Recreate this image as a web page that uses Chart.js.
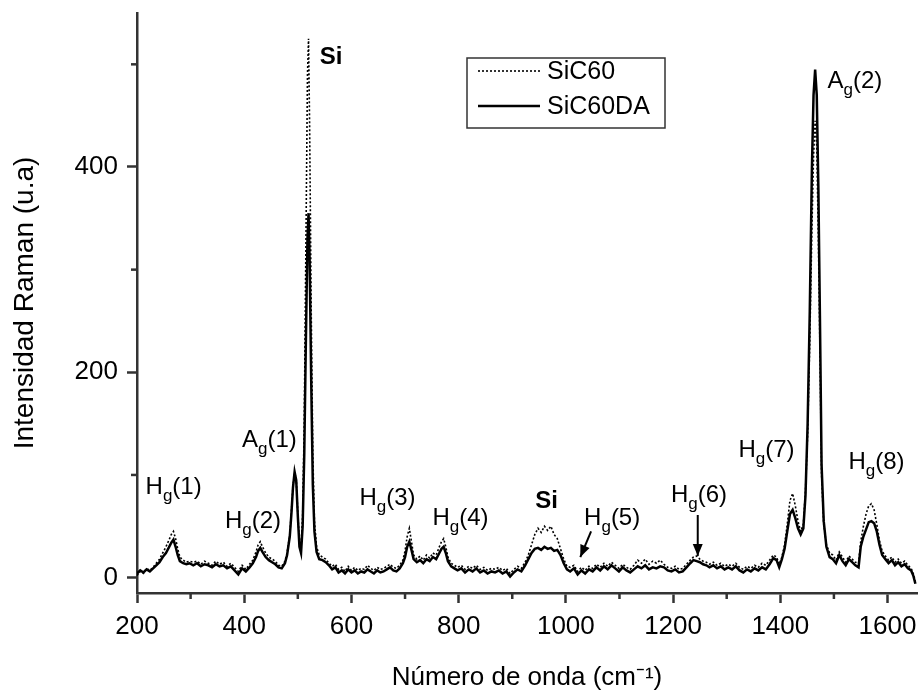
<!DOCTYPE html>
<html>
<head>
<meta charset="utf-8">
<title>Raman SiC60 / SiC60DA</title>
<script src="https://cdn.jsdelivr.net/npm/chart.js@4.4.1/dist/chart.umd.min.js"></script>
<style>
  html, body { margin: 0; padding: 0; background: #fff; }
  canvas { display: block; }
</style>
</head>
<body>
<canvas id="ramanChart" width="920" height="691"></canvas>
<script>
// Raman shift (cm-1)
const wavenumber = [
  200, 206, 212, 218, 224, 230, 236, 242, 248, 254, 260, 264, 268, 272, 276, 280, 286, 292, 298,
  305, 312, 319, 326, 333, 340, 347, 354, 361, 368, 375, 382, 389, 396, 403, 410, 416,
  422, 426, 430, 434, 440, 446, 452, 458, 464, 470, 476,
  480, 485, 488, 491, 494, 497, 500, 503, 506, 509, 512, 515, 518, 520, 522, 525, 528, 531, 535, 540, 546,
  552, 558, 564, 570, 576, 582, 588, 594, 600, 606, 612, 618, 624, 630, 636, 642, 648, 654, 660, 666, 672, 678, 684, 690, 696,
  700, 704, 708, 712, 716, 722, 728, 734, 740, 746, 752, 758, 764, 768, 772, 776, 780, 786, 792,
  798, 805, 812, 819, 826, 833, 840, 847, 854, 861, 868, 875, 882, 889, 896, 903, 910, 917, 924,
  930, 936, 942, 948, 954, 960, 966, 972, 978, 984, 990, 996, 1002,
  1008, 1015, 1022, 1029, 1036, 1043, 1050, 1057, 1064, 1071, 1078, 1085, 1092, 1099, 1106, 1113,
  1120, 1127, 1134, 1141, 1148, 1155, 1162, 1169, 1176, 1183, 1190, 1197, 1204, 1211, 1218, 1225,
  1232, 1238, 1244, 1250, 1256, 1262, 1268, 1275, 1282, 1289, 1296, 1303,
  1310, 1317, 1324, 1331, 1338, 1345, 1352, 1359, 1366, 1373, 1380, 1387, 1393, 1398,
  1403, 1408, 1413, 1418, 1423, 1428, 1433, 1438, 1443, 1447, 1451, 1455, 1459, 1462, 1465, 1468, 1471, 1474, 1477, 1481, 1486, 1492,
  1498, 1504, 1510, 1516, 1522, 1528, 1534, 1540, 1546, 1550, 1555, 1560, 1565, 1570, 1575, 1580, 1585, 1590, 1596, 1602,
  1608, 1614, 1620, 1626, 1632, 1638, 1644, 1648, 1652
];

// SiC60 (dotted)
const sic60 = [
  2, 6, 4, 9, 7, 10, 14, 18, 24, 30, 37, 42, 45, 38, 28, 20, 17, 15, 16,
  15, 16, 13, 16, 14, 12, 16, 13, 15, 11, 14, 10, 6, 12, 8, 13, 17,
  25, 32, 35, 30, 24, 20, 18, 16, 12, 11, 16,
  24, 42, 64, 90, 102, 96, 62, 34, 30, 60, 150, 320, 490, 525, 440, 260, 120, 55, 30, 22, 20,
  18, 14, 11, 13, 8, 10, 6, 11, 7, 10, 7, 9, 8, 12, 9, 7, 10, 8, 9, 11, 13, 10, 9, 12, 17,
  26, 40, 48, 35, 22, 18, 21, 17, 22, 19, 24, 22, 30, 35, 38, 30, 20, 14, 12,
  10, 12, 8, 11, 9, 12, 8, 10, 7, 9, 8, 10, 7, 9, 4, 8, 11, 9, 15,
  22, 32, 42, 48, 44, 50, 46, 50, 42, 38, 28, 18, 11,
  10, 12, 6, 10, 7, 11, 9, 13, 10, 14, 11, 15, 12, 9, 13, 10,
  8, 12, 17, 14, 18, 13, 16, 14, 17, 13, 10, 9, 11, 8, 9, 13,
  17, 20, 21, 18, 16, 15, 13, 15, 12, 14, 11, 13,
  11, 14, 10, 8, 11, 9, 12, 10, 14, 12, 17, 22, 20, 13,
  20, 32, 52, 75, 82, 70, 55, 45, 52, 85, 140, 230, 340, 410, 445, 420, 330, 220, 100, 52, 32, 24,
  22, 17, 25, 20, 15, 21, 18, 15, 14, 35, 50, 62, 70, 72, 66, 52, 36, 26, 21, 17,
  20, 15, 18, 14, 16, 12, 9, 4, -4
];

// SiC60DA (solid)
const sic60da = [
  4, 7, 5, 8, 6, 9, 12, 15, 20, 24, 30, 34, 37, 30, 22, 16, 14, 13, 14,
  12, 14, 11, 13, 12, 10, 13, 11, 12, 9, 11, 7, 3, 9, 6, 10, 14,
  20, 26, 29, 25, 20, 17, 15, 13, 10, 9, 14,
  22, 40, 62, 88, 103, 95, 60, 30, 24, 50, 120, 230, 330, 355, 310, 190, 90, 45, 25, 18, 17,
  15, 12, 8, 10, 5, 7, 4, 8, 5, 7, 4, 6, 5, 8, 6, 4, 7, 5, 6, 8, 10, 7, 6, 9, 14,
  20, 30, 35, 27, 18, 15, 17, 14, 18, 16, 20, 18, 24, 28, 30, 24, 16, 11, 9,
  7, 9, 5, 8, 6, 9, 5, 7, 4, 6, 5, 7, 4, 6, 1, 5, 8, 6, 12,
  18, 24, 28, 29, 27, 30, 28, 29, 26, 27, 22, 14, 8,
  6, 9, 3, 7, 4, 8, 6, 10, 7, 11, 8, 12, 9, 6, 10, 7,
  5, 8, 11, 9, 12, 8, 10, 9, 11, 10, 7, 6, 8, 5, 6, 10,
  14, 17, 16, 15, 13, 12, 10, 12, 9, 11, 8, 10,
  8, 11, 7, 5, 8, 6, 9, 7, 10, 8, 13, 19, 17, 10,
  18, 28, 45, 62, 66, 58, 48, 42, 48, 80, 150, 260, 400, 470, 495, 470, 380, 250, 110, 55, 30, 20,
  18, 14, 22, 16, 12, 18, 15, 12, 10, 30, 40, 47, 54, 55, 53, 45, 32, 22, 18, 14,
  17, 12, 15, 11, 13, 9, 7, 2, -6
];

const xTickValues = [200, 400, 600, 800, 1000, 1200, 1400, 1600];
const xMinorValues = [300, 500, 700, 900, 1100, 1300, 1500];
const yTickValues = [0, 200, 400];
const yMinorValues = [100, 300, 500];

// Peak labels, anchored in data units (left edge / baseline)
const peakLabels = [
  { main: 'H', sub: 'g', tail: '(1)', x: 216, y: 81 },
  { main: 'H', sub: 'g', tail: '(2)', x: 364, y: 48 },
  { main: 'A', sub: 'g', tail: '(1)', x: 396, y: 127 },
  { main: 'Si', x: 541, y: 500, bold: true },
  { main: 'H', sub: 'g', tail: '(3)', x: 615, y: 71 },
  { main: 'H', sub: 'g', tail: '(4)', x: 751, y: 51 },
  { main: 'Si', x: 943, y: 68, bold: true },
  { main: 'H', sub: 'g', tail: '(5)', x: 1034, y: 51 },
  { main: 'H', sub: 'g', tail: '(6)', x: 1196, y: 74 },
  { main: 'H', sub: 'g', tail: '(7)', x: 1322, y: 117 },
  { main: 'H', sub: 'g', tail: '(8)', x: 1527, y: 106 },
  { main: 'A', sub: 'g', tail: '(2)', x: 1488, y: 477 }
];

const arrows = [
  { x0: 1047, y0: 45, x1: 1027, y1: 20 },
  { x0: 1246, y0: 61, x1: 1246, y1: 21 }
];

const FONT = '"Liberation Sans", Arial, Helvetica, sans-serif';
const AXIS_COLOR = '#333';

function toPoints(values) {
    return wavenumber.map((w, i) => ({ x: w, y: values[i] }));
}

function drawArrowHead(ctx, x0, y0, x1, y1) {
    const ang = Math.atan2(y1 - y0, x1 - x0);
    const len = 12, half = 5;
    ctx.beginPath();
    ctx.moveTo(x1, y1);
    ctx.lineTo(x1 - len * Math.cos(ang) + half * Math.sin(ang), y1 - len * Math.sin(ang) - half * Math.cos(ang));
    ctx.lineTo(x1 - len * Math.cos(ang) - half * Math.sin(ang), y1 - len * Math.sin(ang) + half * Math.cos(ang));
    ctx.closePath();
    ctx.fill();
}

const decorations = {
    id: 'decorations',
    afterDraw(chart) {
        const ctx = chart.ctx;
        const xs = chart.scales.x, ys = chart.scales.y;
        ctx.save();

        // minor ticks
        ctx.strokeStyle = AXIS_COLOR;
        ctx.lineWidth = 2.5;
        xMinorValues.forEach(v => {
            const px = xs.getPixelForValue(v);
            ctx.beginPath();
            ctx.moveTo(px, xs.top);
            ctx.lineTo(px, xs.top + 6);
            ctx.stroke();
        });
        yMinorValues.forEach(v => {
            const py = ys.getPixelForValue(v);
            ctx.beginPath();
            ctx.moveTo(ys.right, py);
            ctx.lineTo(ys.right - 6, py);
            ctx.stroke();
        });

        // peak labels
        ctx.fillStyle = '#000';
        ctx.textBaseline = 'alphabetic';
        ctx.textAlign = 'left';
        peakLabels.forEach(l => {
            let px = xs.getPixelForValue(l.x);
            const py = ys.getPixelForValue(l.y);
            ctx.font = (l.bold ? 'bold ' : '') + '24px ' + FONT;
            ctx.fillText(l.main, px, py);
            px += ctx.measureText(l.main).width;
            if (l.sub) {
                ctx.font = '17px ' + FONT;
                ctx.fillText(l.sub, px, py + 7);
                px += ctx.measureText(l.sub).width;
            }
            if (l.tail) {
                ctx.font = '24px ' + FONT;
                ctx.fillText(l.tail, px, py);
            }
        });

        // arrows
        ctx.strokeStyle = '#000';
        ctx.lineWidth = 2;
        arrows.forEach(a => {
            const x0 = xs.getPixelForValue(a.x0), y0 = ys.getPixelForValue(a.y0);
            const x1 = xs.getPixelForValue(a.x1), y1 = ys.getPixelForValue(a.y1);
            ctx.beginPath();
            ctx.moveTo(x0, y0);
            ctx.lineTo(x1, y1);
            ctx.stroke();
            drawArrowHead(ctx, x0, y0, x1, y1);
        });

        // legend box
        const bx = 467, by = 58, bw = 198, bh = 70;
        ctx.lineWidth = 1.5;
        ctx.strokeStyle = AXIS_COLOR;
        ctx.strokeRect(bx, by, bw, bh);
        chart.data.datasets.forEach((ds, i) => {
            const ly = by + 13 + i * 35;
            ctx.beginPath();
            ctx.setLineDash(ds.borderDash || []);
            ctx.lineWidth = ds.borderWidth;
            ctx.strokeStyle = ds.borderColor;
            ctx.moveTo(bx + 11, ly);
            ctx.lineTo(bx + 73, ly);
            ctx.stroke();
            ctx.setLineDash([]);
            ctx.font = '25px ' + FONT;
            ctx.textBaseline = 'middle';
            ctx.fillText(ds.label, bx + 80, ly + 1);
        });
        ctx.restore();
    }
};

new Chart(document.getElementById('ramanChart'), {
    type: 'line',
    data: {
        datasets: [
            {
                label: 'SiC60',
                data: toPoints(sic60),
                borderColor: '#000',
                borderWidth: 1.6,
                borderDash: [2, 2],
                pointRadius: 0,
                tension: 0
            },
            {
                label: 'SiC60DA',
                data: toPoints(sic60da),
                borderColor: '#000',
                borderWidth: 2.5,
                pointRadius: 0,
                tension: 0
            }
        ]
    },
    options: {
        responsive: false,
        animation: false,
        layout: { padding: { top: 13, right: 3, left: 0, bottom: 0 } },
        plugins: {
            legend: { display: false },
            tooltip: { enabled: false }
        },
        scales: {
            x: {
                type: 'linear',
                min: 200,
                max: 1655,
                afterBuildTicks: scale => { scale.ticks = xTickValues.map(v => ({ value: v })); },
                afterFit: scale => {
                    scale.height = 98;
                    scale.paddingLeft = 0;
                    scale.paddingRight = 0;
                },
                border: { color: AXIS_COLOR, width: 2.5 },
                grid: { drawOnChartArea: false, tickLength: 10, tickWidth: 2.5, tickColor: AXIS_COLOR },
                ticks: {
                    color: '#000', padding: 8, maxRotation: 0,
                    font: { family: FONT, size: 26 },
                    callback: v => String(v)
                },
                title: {
                    display: true,
                    text: 'Número de onda (cm⁻¹)',
                    color: '#000',
                    padding: 0,
                    font: { family: FONT, size: 26, lineHeight: 1 }
                }
            },
            y: {
                min: -15,
                max: 550,
                afterBuildTicks: scale => { scale.ticks = yTickValues.map(v => ({ value: v })); },
                afterFit: scale => {
                    scale.width = 137;
                    scale.paddingTop = 0;
                    scale.paddingBottom = 0;
                },
                border: { color: AXIS_COLOR, width: 2.5 },
                grid: { drawOnChartArea: false, tickLength: 10, tickWidth: 2.5, tickColor: AXIS_COLOR },
                ticks: {
                    color: '#000', padding: 9,
                    font: { family: FONT, size: 26 },
                    callback: v => String(v)
                },
                title: {
                    display: true,
                    text: 'Intensidad Raman (u.a)',
                    color: '#000',
                    padding: { top: 11, bottom: 0 },
                    font: { family: FONT, size: 28, lineHeight: 1 }
                }
            }
        }
    },
    plugins: [decorations]
});
</script>
</body>
</html>
